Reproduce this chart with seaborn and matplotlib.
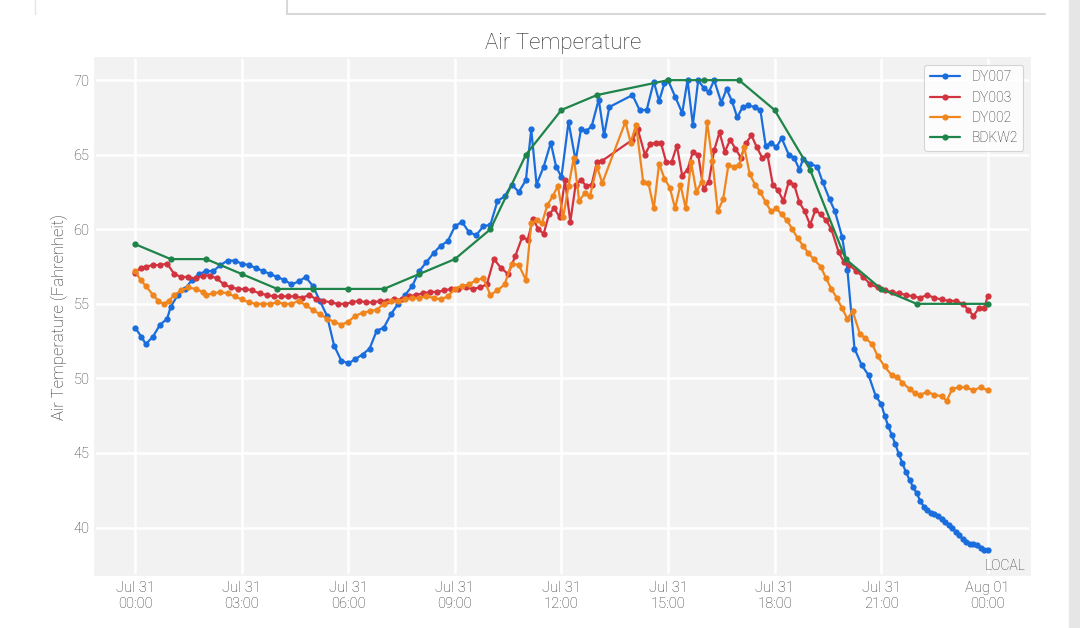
import pandas as pd
import numpy as np
import matplotlib.pyplot as plt
import matplotlib.dates as mdates
import seaborn as sns

bdkw2_h = [0, 1, 2, 3, 4, 5, 6, 7, 8, 9, 10, 11, 12, 13, 15, 16, 17, 18, 19, 20, 21, 22, 24]
bdkw2_v = [59, 58, 58, 57, 56, 56, 56, 56, 57, 58, 60, 65, 68, 69, 70, 70, 70, 68, 64, 58, 56, 55, 55]

dy007_h = [0, 0.17, 0.3, 0.5, 0.7, 0.9, 1.0, 1.2, 1.4, 1.6, 1.8, 2.0, 2.2, 2.4, 2.6, 2.8, 3.0, 3.2, 3.4, 3.6, 3.8,
           4.0, 4.2, 4.4, 4.6, 4.8, 5.0, 5.2, 5.4, 5.6, 5.8, 6.0, 6.2, 6.4, 6.6, 6.8, 7.0, 7.2, 7.4, 7.6, 7.8,
           8.0, 8.2, 8.4, 8.6, 8.8, 9.0, 9.2, 9.4, 9.6, 9.8, 10.0, 10.2, 10.4, 10.6, 10.8, 11.0, 11.15, 11.3,
           11.5, 11.7, 11.85, 12.0, 12.2, 12.4, 12.55, 12.7, 12.85, 13.05, 13.2, 13.35, 14.0, 14.2, 14.4, 14.6,
           14.75, 14.9, 15.0, 15.2, 15.4, 15.55, 15.7, 15.85, 16.0, 16.15, 16.3, 16.5, 16.65, 16.8, 16.95, 17.1,
           17.25, 17.45, 17.6, 17.75, 17.9, 18.05, 18.2, 18.4, 18.55, 18.7, 18.8, 19.0, 19.2, 19.35, 19.55, 19.7,
           19.9, 20.05, 20.25, 20.45, 20.65, 20.85, 21.0, 21.1, 21.2, 21.3, 21.4, 21.5, 21.6, 21.7, 21.8, 21.9,
           22.0, 22.1, 22.2, 22.3, 22.4, 22.5, 22.6, 22.7, 22.8, 22.9, 23.0, 23.1, 23.2, 23.3, 23.4, 23.5, 23.6,
           23.7, 23.8, 23.9, 24.0]
dy007_v = [53.4, 52.8, 52.3, 52.8, 53.6, 54.0, 54.8, 55.6, 56.0, 56.6, 57.0, 57.2, 57.2, 57.6, 57.9, 57.9, 57.7,
           57.6, 57.4, 57.2, 57.0, 56.8, 56.6, 56.3, 56.5, 56.8, 56.2, 55.2, 54.2, 52.2, 51.2, 51.0, 51.3, 51.6,
           52.0, 53.2, 53.4, 54.3, 55.0, 55.6, 56.2, 57.2, 57.8, 58.4, 58.9, 59.2, 60.2, 60.5, 59.8, 59.6, 60.2,
           60.3, 61.9, 62.2, 63.0, 62.5, 63.3, 66.7, 63.0, 64.2, 65.8, 64.2, 63.5, 67.2, 64.6, 66.7, 66.6, 66.9,
           68.7, 66.3, 68.2, 69.0, 68.0, 68.0, 69.9, 68.6, 69.8, 70.0, 68.9, 67.8, 70.0, 67.0, 70.0, 69.5, 69.2,
           70.0, 68.5, 69.4, 68.6, 67.5, 68.2, 68.3, 68.2, 68.0, 65.6, 65.8, 65.5, 66.1, 65.0, 64.8, 64.0, 64.7,
           64.4, 64.2, 63.2, 62.0, 61.2, 59.5, 57.3, 52.0, 50.9, 50.2, 48.8, 48.3, 47.5, 46.8, 46.2, 45.6, 44.9,
           44.3, 43.7, 43.2, 42.7, 42.3, 41.8, 41.4, 41.2, 41.0, 40.9, 40.8, 40.6, 40.4, 40.2, 40.0, 39.7, 39.5,
           39.2, 39.0, 38.9, 38.9, 38.8, 38.6, 38.5, 38.5, 38.3]

dy003_h = [0, 0.15, 0.3, 0.5, 0.7, 0.9, 1.1, 1.3, 1.5, 1.7, 1.9, 2.1, 2.3, 2.5, 2.7, 2.9, 3.1, 3.3, 3.5, 3.7, 3.9,
           4.1, 4.3, 4.5, 4.7, 4.9, 5.1, 5.3, 5.5, 5.7, 5.9, 6.1, 6.3, 6.5, 6.7, 6.9, 7.1, 7.3, 7.5, 7.7, 7.9, 8.1,
           8.3, 8.5, 8.7, 8.9, 9.1, 9.3, 9.5, 9.7, 9.9, 10.1, 10.3, 10.5, 10.7, 10.9, 11.05, 11.2, 11.35, 11.5,
           11.65, 11.8, 11.95, 12.1, 12.25, 12.4, 12.55, 12.7, 12.85, 13.0, 13.15, 14.0, 14.15, 14.35, 14.5, 14.65,
           14.8, 14.95, 15.1, 15.25, 15.4, 15.55, 15.7, 15.85, 16.0, 16.15, 16.3, 16.45, 16.6, 16.75, 16.9, 17.05,
           17.2, 17.35, 17.5, 17.65, 17.8, 17.95, 18.1, 18.25, 18.4, 18.55, 18.7, 18.85, 19.0, 19.15, 19.3, 19.45,
           19.6, 19.8, 19.95, 20.1, 20.3, 20.5, 20.7, 20.9, 21.1, 21.3, 21.5, 21.7, 21.9, 22.1, 22.3, 22.5, 22.7,
           22.9, 23.1, 23.3, 23.45, 23.6, 23.75, 23.9, 24.0]
dy003_v = [57.1, 57.4, 57.5, 57.6, 57.6, 57.7, 57.0, 56.8, 56.8, 56.7, 56.9, 56.9, 56.7, 56.3, 56.1, 56.0, 56.0,
           55.9, 55.7, 55.6, 55.5, 55.5, 55.5, 55.5, 55.4, 55.6, 55.3, 55.2, 55.1, 55.0, 55.0, 55.1, 55.2, 55.1,
           55.1, 55.2, 55.2, 55.3, 55.3, 55.5, 55.6, 55.7, 55.8, 55.8, 55.9, 56.0, 56.0, 56.1, 56.0, 56.1, 56.3,
           58.0, 57.4, 57.0, 58.2, 59.5, 59.3, 60.7, 60.0, 59.7, 61.0, 61.4, 60.8, 63.3, 60.5, 63.0, 63.3, 62.9,
           63.0, 64.5, 64.6, 66.0, 66.7, 65.0, 65.7, 65.8, 65.8, 64.5, 64.5, 65.6, 63.6, 64.0, 65.2, 65.0, 62.7,
           63.2, 65.3, 66.5, 65.2, 66.0, 65.4, 64.8, 65.8, 66.3, 65.5, 64.8, 65.0, 63.0, 62.6, 61.9, 63.2, 63.0,
           61.8, 61.2, 60.3, 61.3, 61.0, 60.6, 60.0, 58.5, 57.8, 57.6, 57.2, 56.8, 56.3, 56.1, 55.9, 55.8, 55.7,
           55.6, 55.5, 55.4, 55.6, 55.4, 55.3, 55.2, 55.2, 55.0, 54.6, 54.2, 54.7, 54.7, 55.5]

dy002_h = [0, 0.15, 0.3, 0.5, 0.65, 0.8, 0.95, 1.1, 1.3, 1.5, 1.7, 1.9, 2.0, 2.2, 2.4, 2.6, 2.8, 3.0, 3.2, 3.4,
           3.6, 3.8, 4.0, 4.2, 4.4, 4.6, 4.8, 5.0, 5.2, 5.4, 5.6, 5.8, 6.0, 6.2, 6.4, 6.6, 6.8, 7.0, 7.2, 7.4, 7.6,
           7.8, 8.0, 8.2, 8.4, 8.6, 8.8, 9.0, 9.2, 9.4, 9.6, 9.8, 10.0, 10.2, 10.4, 10.6, 10.8, 11.0, 11.15, 11.3,
           11.45, 11.6, 11.75, 11.9, 12.05, 12.2, 12.35, 12.5, 12.65, 12.8, 13.0, 13.15, 13.8, 13.95, 14.1, 14.3,
           14.45, 14.6, 14.75, 14.9, 15.05, 15.2, 15.35, 15.5, 15.65, 15.8, 15.95, 16.1, 16.25, 16.4, 16.55, 16.7,
           16.85, 17.0, 17.15, 17.3, 17.45, 17.6, 17.75, 17.9, 18.05, 18.2, 18.35, 18.5, 18.65, 18.8, 18.95, 19.1,
           19.3, 19.45, 19.6, 19.75, 19.9, 20.05, 20.2, 20.4, 20.55, 20.75, 20.9, 21.1, 21.3, 21.45, 21.6, 21.8,
           21.95, 22.1, 22.3, 22.5, 22.7, 22.85, 23.0, 23.2, 23.4, 23.6, 23.8, 24.0]
dy002_v = [57.2, 56.6, 56.2, 55.6, 55.2, 55.0, 55.2, 55.6, 55.9, 56.1, 56.0, 55.8, 55.6, 55.7, 55.8, 55.7, 55.5,
           55.3, 55.1, 55.0, 55.0, 55.0, 55.1, 55.0, 55.0, 55.2, 54.9, 54.6, 54.3, 54.0, 53.8, 53.6, 53.8, 54.2,
           54.4, 54.5, 54.6, 55.0, 55.2, 55.2, 55.3, 55.4, 55.4, 55.5, 55.4, 55.3, 55.5, 56.0, 56.2, 56.3, 56.6,
           56.7, 55.6, 55.9, 56.3, 57.7, 57.6, 56.6, 60.4, 60.6, 60.4, 61.6, 62.2, 62.9, 60.8, 62.9, 64.8, 61.9,
           62.4, 62.2, 64.2, 63.1, 67.2, 65.8, 67.0, 63.2, 63.1, 61.4, 64.4, 63.4, 62.8, 61.4, 63.0, 61.4, 64.5,
           62.5, 63.2, 67.2, 64.6, 61.2, 62.0, 64.3, 64.2, 64.3, 65.5, 63.7, 63.0, 62.5, 61.8, 61.2, 61.4, 61.0,
           60.6, 60.0, 59.4, 58.9, 58.4, 58.0, 57.5, 56.7, 56.0, 55.4, 54.7, 54.0, 54.5, 53.0, 52.7, 52.3, 51.5,
           50.8, 50.2, 50.1, 49.7, 49.3, 49.0, 48.9, 49.1, 48.9, 48.8, 48.5, 49.3, 49.4, 49.4, 49.2, 49.4, 49.2]

series = {"DY007": (dy007_h, dy007_v), "DY003": (dy003_h, dy003_v),
          "DY002": (dy002_h, dy002_v), "BDKW2": (bdkw2_h, bdkw2_v)}
colors = {"DY007": "#1a6ddc", "DY003": "#d2343f", "DY002": "#f0851d", "BDKW2": "#1e8449"}

start = pd.Timestamp("2024-07-31 00:00")
rows = []
for name, (h, v) in series.items():
    for hh, vv in zip(h, v):
        rows.append({"time": start + pd.Timedelta(hours=hh), "temp": vv, "station": name})
df = pd.DataFrame(rows)

sns.set_theme(style="whitegrid", rc={"axes.facecolor": "#f2f2f2", "grid.color": "white",
                                     "grid.linewidth": 1.8, "axes.edgecolor": "#f2f2f2"})
plt.rcParams["font.family"] = ["Roboto", "DejaVu Sans"]

fig = plt.figure(figsize=(10.8, 6.28), dpi=100)
ax = fig.add_axes([0.088, 0.084, 0.866, 0.824])
sns.lineplot(data=df, x="time", y="temp", hue="station", palette=colors, marker="o",
             markersize=4.5, markeredgewidth=0, linewidth=1.6, ax=ax, sort=True, estimator=None)

ax.set_xlim(start - pd.Timedelta(hours=1.13), start + pd.Timedelta(hours=25.2))
ax.set_ylim(36.8, 71.5)
ax.set_yticks([40, 45, 50, 55, 60, 65, 70])
ticks = [start + pd.Timedelta(hours=3 * i) for i in range(9)]
ax.set_xticks(ticks)
ax.set_xticklabels([f"{t:%b %d}\n{t:%H:%M}" for t in ticks])
ax.tick_params(labelsize=10.5, colors="#333333", length=0, pad=4)
for lab in ax.get_xticklabels() + ax.get_yticklabels():
    lab.set_fontweight("light")
ax.set_xlabel("")
ax.set_ylabel("Air Temperature (Fahrenheit)", fontsize=12, color="#222222", fontweight="light")
ax.set_title("Air Temperature", fontsize=16, fontweight="light", pad=6)
ax.text(0.995, 0.005, "LOCAL", transform=ax.transAxes, ha="right", va="bottom",
        fontsize=10, fontweight="light", color="#333333")
leg = ax.legend(loc="upper right", fontsize=10, frameon=True, facecolor="white",
                edgecolor="#cccccc", borderpad=0.4, labelspacing=0.45, handlelength=2.2)
leg.get_frame().set_linewidth(0.8)
for t in leg.get_texts():
    t.set_fontweight("light")

# app frame lines at the top of the screenshot
fig.add_artist(plt.Line2D([287 / 1080, 1045 / 1080], [1 - 14 / 628] * 2, color="#d8d8d8", lw=1.5))
fig.add_artist(plt.Line2D([287 / 1080] * 2, [1, 1 - 14 / 628], color="#d8d8d8", lw=1.5))
fig.add_artist(plt.Line2D([35 / 1080] * 2, [1, 1 - 14 / 628], color="#e4e4e4", lw=1))
fig.add_artist(plt.Rectangle((1069 / 1080, 0), 11 / 1080, 1, color="#e6e6e6", transform=fig.transFigure))

fig.savefig("out.png", dpi=100)
